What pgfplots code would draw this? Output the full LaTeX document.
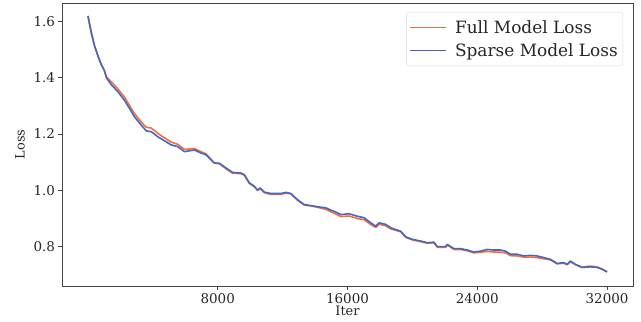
\documentclass[border=0pt]{standalone}
\usepackage{fontspec}
\setmainfont{DejaVu Serif}
\usepackage{pgfplots}
\usepackage{pgfplotstable}
\pgfplotsset{compat=1.18}
\definecolor{fullc}{RGB}{245,108,66}
\definecolor{sparsec}{RGB}{68,104,192}
\definecolor{spine}{RGB}{68,68,68}

\pgfplotstableread{
x y
0 1.620
200 1.562
400 1.515
600 1.480
800 1.450
1000 1.427
1150 1.402
1430 1.386
1850 1.360
2250 1.331
2560 1.302
2870 1.272
3280 1.243
3590 1.224
3900 1.221
4310 1.202
4620 1.190
5130 1.171
5540 1.163
5950 1.145
6560 1.148
6970 1.137
7280 1.129
7790 1.097
8100 1.094
8510 1.076
8920 1.060
9430 1.059
9640 1.053
9950 1.024
10250 1.013
10460 0.999
10620 1.006
10870 0.991
11280 0.985
11900 0.985
12200 0.990
12510 0.987
12920 0.964
13330 0.947
13740 0.944
14150 0.939
14670 0.932
14970 0.923
15180 0.918
15590 0.906
16100 0.908
16620 0.899
17020 0.895
17430 0.878
17740 0.867
17950 0.879
18360 0.873
18670 0.862
18970 0.857
19280 0.852
19590 0.832
20000 0.823
20510 0.817
20920 0.811
21330 0.813
21540 0.797
22050 0.797
22150 0.805
22560 0.789
22970 0.789
23390 0.784
23790 0.777
24200 0.779
24620 0.782
25020 0.780
25430 0.779
25740 0.777
26050 0.767
26460 0.766
26870 0.762
27280 0.762
27690 0.760
28100 0.756
28510 0.752
28920 0.738
29330 0.740
29540 0.735
29740 0.745
30050 0.735
30460 0.726
30970 0.730
31390 0.727
31690 0.719
32000 0.710
}\fulltable

\pgfplotstableread{
x y
0 1.620
200 1.562
400 1.515
600 1.480
800 1.450
1000 1.427
1150 1.399
1430 1.376
1850 1.350
2250 1.320
2560 1.291
2870 1.261
3280 1.232
3590 1.211
3900 1.208
4310 1.190
4620 1.179
5130 1.161
5540 1.155
5950 1.137
6560 1.143
6970 1.132
7280 1.126
7790 1.096
8100 1.096
8510 1.079
8920 1.063
9430 1.061
9640 1.055
9950 1.026
10250 1.014
10460 1.000
10620 1.008
10870 0.993
11280 0.988
11900 0.988
12200 0.992
12510 0.988
12920 0.966
13330 0.949
13740 0.945
14150 0.941
14670 0.937
14970 0.929
15180 0.925
15590 0.913
16100 0.916
16620 0.907
17020 0.902
17430 0.884
17740 0.872
17950 0.884
18360 0.878
18670 0.866
18970 0.860
19280 0.854
19590 0.834
20000 0.825
20510 0.819
20920 0.813
21330 0.815
21540 0.799
22050 0.799
22150 0.807
22560 0.792
22970 0.792
23390 0.787
23790 0.780
24200 0.783
24620 0.789
25020 0.787
25430 0.787
25740 0.783
26050 0.772
26460 0.772
26870 0.766
27280 0.768
27690 0.766
28100 0.760
28510 0.754
28920 0.739
29330 0.742
29540 0.736
29740 0.748
30050 0.736
30460 0.725
30970 0.727
31390 0.725
31690 0.719
32000 0.709
}\sparsetable

\begin{document}
\begin{tikzpicture}
\useasboundingbox (-62bp,-36bp) rectangle (579bp,286bp);
\begin{axis}[
  at={(0,0)}, anchor=south west,
  scale only axis, width=571bp, height=283bp,
  xmin=-1600, xmax=33600, ymin=0.659, ymax=1.666,
  xtick={8000,16000,24000,32000},
  ytick={0.8,1.0,1.2,1.4,1.6},
  scaled x ticks=false,
  xticklabel style={/pgf/number format/1000 sep={}},
  yticklabel style={/pgf/number format/.cd,fixed,fixed zerofill,precision=1},
  /pgf/number format/assume math mode=true,
  tick align=outside, major tick length=3.5bp,
  tick pos=left,
  axis line style={spine, line width=0.8bp},
  every tick/.style={spine, line width=0.8bp},
  ticklabel style={font=\fontsize{13.5}{15}\selectfont, text=black!85},
  xlabel={Iter}, ylabel={Loss},
  xlabel style={font=\fontsize{13}{15}\selectfont, text=black!85, at={(axis description cs:0.5,0)}, anchor=north, yshift=-20bp, inner sep=0pt},
  ylabel style={font=\fontsize{13}{15}\selectfont, text=black!85, at={(axis description cs:0,0.5)}, anchor=center, xshift=0pt, yshift=42bp, inner sep=0pt},
  legend style={at={(axis description cs:1,1)}, anchor=north east, xshift=-10bp, yshift=-9bp,
    draw=black!15, rounded corners=2bp, font=\fontsize{17}{19}\selectfont,
    inner xsep=3bp, inner ysep=6bp, row sep=5bp, column sep=6bp, text=black!85},
  legend cell align=left,
  legend image code/.code={\draw[#1, line width=1.4bp] (0bp,0bp) -- (36bp,0bp);},
]
\addplot[fullc, line width=1.6bp, line join=round] table[x=x,y=y] {\fulltable};
\addlegendentry{Full Model Loss}
\addplot[sparsec, line width=1.6bp, line join=round] table[x=x,y=y] {\sparsetable};
\addlegendentry{Sparse Model Loss}
\end{axis}
\end{tikzpicture}
\end{document}
